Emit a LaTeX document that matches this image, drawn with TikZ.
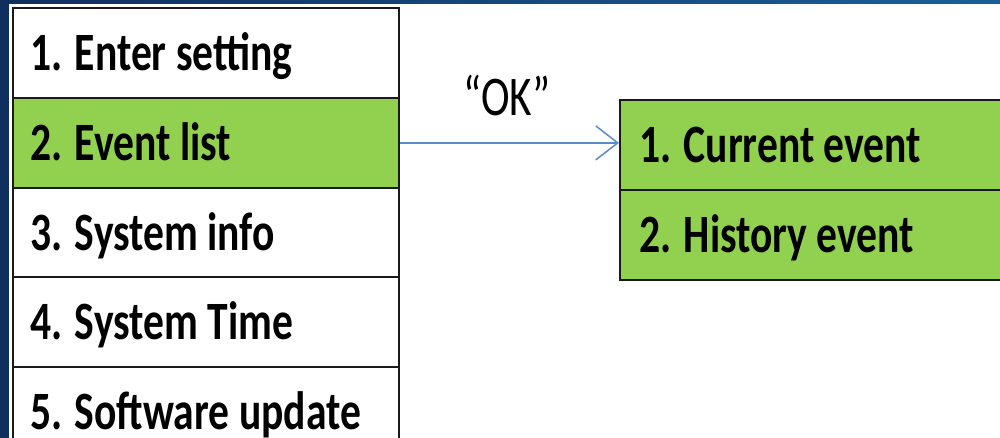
\documentclass[tikz,border=0pt]{standalone}
\usepackage{fontspec}
\setmainfont{Carlito}
\newfontfamily\menufont[FakeStretch=0.77]{Carlito}
\usetikzlibrary{arrows.meta,calc}
\definecolor{menugreen}{HTML}{92D050}
\definecolor{arrowblue}{HTML}{5B8BC9}
\definecolor{bgleft}{HTML}{0F2F5E}
\definecolor{bgright}{HTML}{1B5F9A}
\definecolor{gridline}{HTML}{1A1A1A}
\tikzset{
  rowbox/.style={draw=gridline, line width=1.8pt, anchor=north west,
    minimum height=90pt, inner xsep=0pt, inner ysep=0pt},
  rowtext/.style={anchor=base west, inner sep=0pt,
    font=\menufont\bfseries\fontsize{54}{54}\selectfont},
  green/.style={fill=menugreen},
  white/.style={fill=white},
  link/.style={draw=arrowblue, line width=1.5pt,
    -{Straight Barb[length=22pt,width=34pt,line width=1.5pt]}},
  oklabel/.style={font=\menufont\fontsize{56}{56}\selectfont, inner sep=0pt}
}
\begin{document}
\begin{tikzpicture}[x=1pt,y=-1pt]
\useasboundingbox (0,0) rectangle (1000,438);
\clip (0,0) rectangle (1000,438);
\shade[left color=bgleft, right color=bgright] (0,0) rectangle (1000,438);
\fill[white] (9,4) rectangle (1000,438);
% left menu
\node[rowbox, white, minimum width=386pt] (r1) at (12,7) {};
\node[rowbox, green, minimum width=386pt] (r2) at (12,97) {};
\node[rowbox, white, minimum width=386pt] (r3) at (12,187) {};
\node[rowbox, white, minimum width=386pt] (r4) at (12,276) {};
\node[rowbox, white, minimum width=386pt] (r5) at (12,366) {};
\node[rowtext] (t1) at ($(r1.west)+(18,17.5)$) {1. Enter setting};
\node[rowtext] (t2) at ($(r2.west)+(18,17.5)$) {2. Event list};
\node[rowtext] (t3) at ($(r3.west)+(18,17.5)$) {3. System info};
\node[rowtext] (t4) at ($(r4.west)+(18,17.5)$) {4. System Time};
\node[rowtext] (t5) at ($(r5.west)+(18,17.5)$) {5. Software update};
% right submenu
\node[rowbox, green, minimum width=420pt] (c1) at (619,99) {};
\node[rowbox, green, minimum width=420pt] (c2) at (619,189) {};
\node[rowtext] (u1) at ($(c1.west)+(20,17.5)$) {1. Current event};
\node[rowtext] (u2) at ($(c2.west)+(20,17.5)$) {2. History event};
% connector
\draw[link] (r2.east) -- (r2.east -| c1.west);
\node[oklabel] (ok) at (507,95) {“OK”};
\end{tikzpicture}
\end{document}
